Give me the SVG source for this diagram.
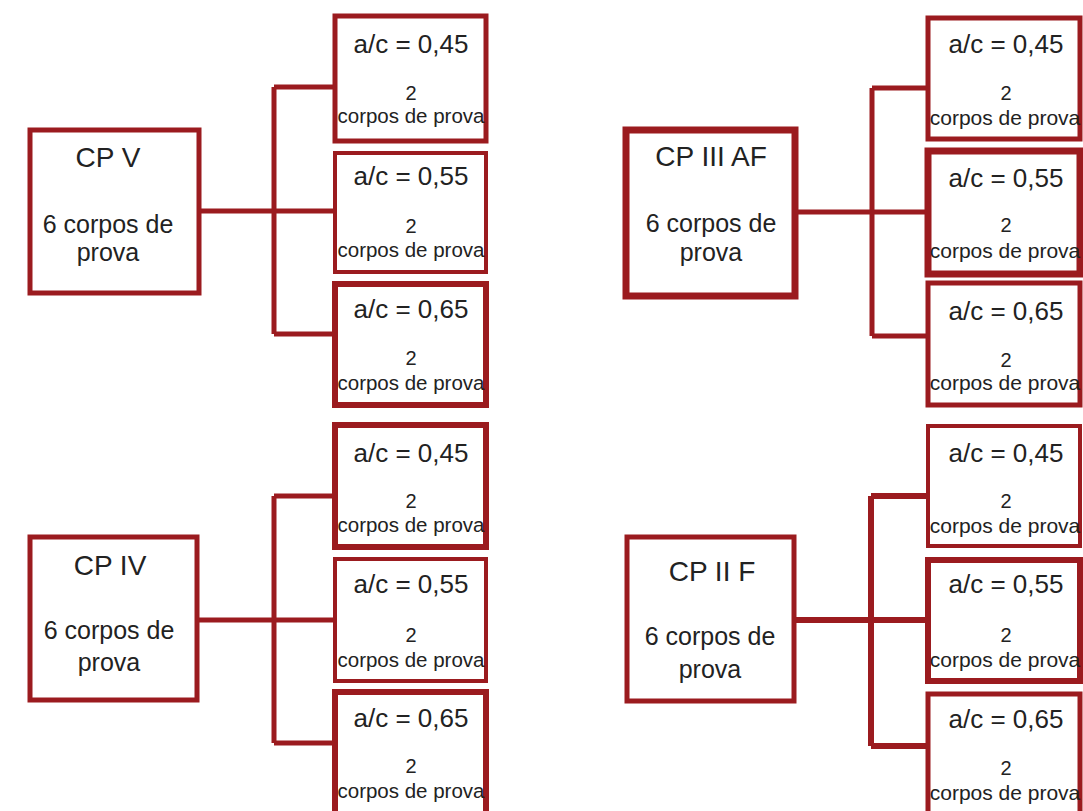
<svg xmlns="http://www.w3.org/2000/svg" width="1083" height="811" viewBox="0 0 1083 811">
<style>
.bx{fill:#ffffff;stroke:#9b1b1f;stroke-linejoin:miter}
.cn{fill:none;stroke:#9b1b1f;stroke-width:5;stroke-linejoin:miter;stroke-linecap:butt}
text{font-family:"Liberation Sans",Arial,sans-serif;fill:#222222;text-anchor:middle}
.t{font-size:28px}
.s{font-size:25px}
.ac{font-size:26px}
.n{font-size:20px}
.c{font-size:20.5px}
.cr{font-size:21px}
</style>
<rect width="1083" height="811" fill="#ffffff"/>
<g id="connectors">
<path class="cn" d="M199 211H335M274 87V334M274 87H335M274 334H335"/>
<path class="cn" d="M795 212H928M872 88V336M872 88H928M872 336H928"/>
<path class="cn" d="M197 620H335M274 496V743M274 496H335M274 743H335"/>
<path class="cn" d="M794 620H928M871 496V746M871 496H928M871 746H928" style="stroke-width:6"/>
</g>
<g id="cpv">
<rect class="bx" x="30" y="130" width="169" height="163" stroke-width="5"/>
<text class="t" x="108" y="167">CP V</text>
<text class="s" x="108" y="233">6 corpos de</text>
<text class="s" x="108" y="261">prova</text>
</g>
<g id="cpv-045">
<rect class="bx" x="335" y="16" width="151" height="125" stroke-width="5"/>
<text class="ac" x="411" y="53">a/c = 0,45</text>
<text class="n" x="411" y="100">2</text>
<text class="c" x="411" y="123">corpos de prova</text>
</g>
<g id="cpv-055">
<rect class="bx" x="335" y="153" width="151" height="119" stroke-width="4"/>
<text class="ac" x="411" y="185">a/c = 0,55</text>
<text class="n" x="411" y="233">2</text>
<text class="c" x="411" y="257">corpos de prova</text>
</g>
<g id="cpv-065">
<rect class="bx" x="335" y="284" width="151" height="121" stroke-width="6"/>
<text class="ac" x="411" y="318">a/c = 0,65</text>
<text class="n" x="411" y="365">2</text>
<text class="c" x="411" y="390">corpos de prova</text>
</g>
<g id="cpiiiaf">
<rect class="bx" x="626" y="130" width="169" height="166" stroke-width="7"/>
<text class="t" x="711" y="166">CP III AF</text>
<text class="s" x="711" y="232">6 corpos de</text>
<text class="s" x="711" y="261">prova</text>
</g>
<g id="cpiiiaf-045">
<rect class="bx" x="928" y="18" width="152" height="121" stroke-width="5"/>
<text class="ac" x="1006" y="53">a/c = 0,45</text>
<text class="n" x="1006" y="100">2</text>
<text class="cr" x="1005" y="125">corpos de prova</text>
</g>
<g id="cpiiiaf-055">
<rect class="bx" x="928" y="151" width="152" height="123" stroke-width="7"/>
<text class="ac" x="1006" y="187">a/c = 0,55</text>
<text class="n" x="1006" y="232">2</text>
<text class="cr" x="1005" y="258">corpos de prova</text>
</g>
<g id="cpiiiaf-065">
<rect class="bx" x="928" y="283" width="152" height="122" stroke-width="5"/>
<text class="ac" x="1006" y="320">a/c = 0,65</text>
<text class="n" x="1006" y="367">2</text>
<text class="cr" x="1005" y="390">corpos de prova</text>
</g>
<g id="cpiv">
<rect class="bx" x="30" y="537" width="167" height="163" stroke-width="5"/>
<text class="t" x="110" y="575">CP IV</text>
<text class="s" x="109" y="639">6 corpos de</text>
<text class="s" x="109" y="671">prova</text>
</g>
<g id="cpiv-045">
<rect class="bx" x="335" y="425" width="151" height="122" stroke-width="6"/>
<text class="ac" x="411" y="462">a/c = 0,45</text>
<text class="n" x="411" y="508">2</text>
<text class="c" x="411" y="532">corpos de prova</text>
</g>
<g id="cpiv-055">
<rect class="bx" x="335" y="559" width="151" height="122" stroke-width="4"/>
<text class="ac" x="411" y="593">a/c = 0,55</text>
<text class="n" x="411" y="642">2</text>
<text class="c" x="411" y="667">corpos de prova</text>
</g>
<g id="cpiv-065">
<rect class="bx" x="335" y="692" width="151" height="140" stroke-width="6"/>
<text class="ac" x="411" y="727">a/c = 0,65</text>
<text class="n" x="411" y="773">2</text>
<text class="c" x="411" y="798">corpos de prova</text>
</g>
<g id="cpiif">
<rect class="bx" x="627" y="537" width="167" height="164" stroke-width="5"/>
<text class="t" x="712" y="581">CP II F</text>
<text class="s" x="710" y="645">6 corpos de</text>
<text class="s" x="710" y="678">prova</text>
</g>
<g id="cpiif-045">
<rect class="bx" x="928" y="426" width="152" height="120" stroke-width="4"/>
<text class="ac" x="1006" y="462">a/c = 0,45</text>
<text class="n" x="1006" y="508">2</text>
<text class="cr" x="1005" y="533">corpos de prova</text>
</g>
<g id="cpiif-055">
<rect class="bx" x="928" y="560" width="152" height="121" stroke-width="6"/>
<text class="ac" x="1006" y="593">a/c = 0,55</text>
<text class="n" x="1006" y="642">2</text>
<text class="cr" x="1005" y="667">corpos de prova</text>
</g>
<g id="cpiif-065">
<rect class="bx" x="928" y="694" width="152" height="140" stroke-width="5"/>
<text class="ac" x="1006" y="728">a/c = 0,65</text>
<text class="n" x="1006" y="775">2</text>
<text class="cr" x="1005" y="800">corpos de prova</text>
</g>
</svg>
